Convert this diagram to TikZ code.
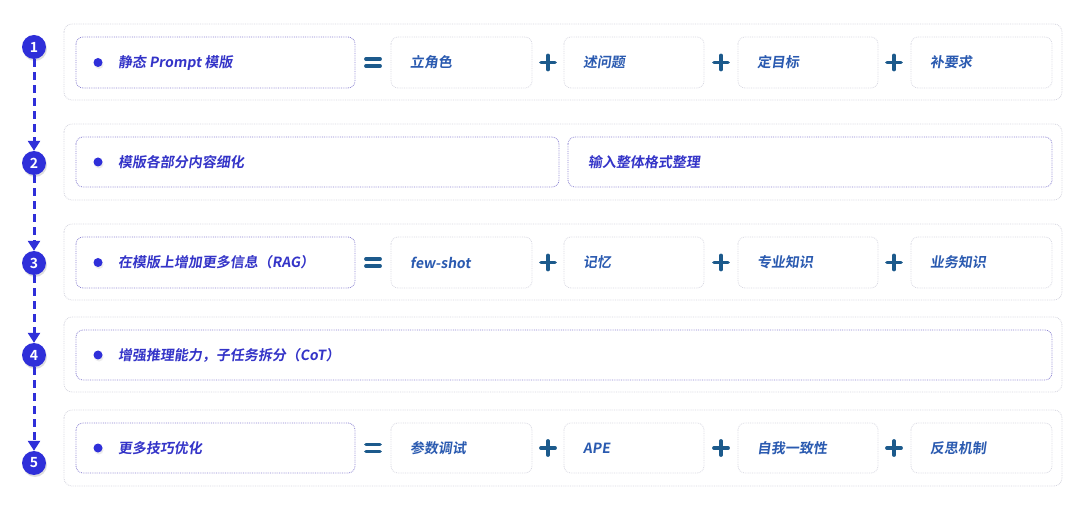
\documentclass[tikz,border=0pt]{standalone}
\usepackage{fontspec}
\newfontfamily\cjk[FakeSlant=0.14,BoldFont={Noto Sans CJK SC Bold}]{Noto Sans CJK SC}
\usetikzlibrary{arrows.meta,shadows}
\definecolor{indigo}{HTML}{3434C8}
\definecolor{stepblue}{HTML}{2F2FD9}
\definecolor{subtext}{HTML}{2A5AB0}
\definecolor{opcol}{HTML}{1C5A8C}
\definecolor{mainborder}{HTML}{8C84D2}
\definecolor{outerborder}{HTML}{D6D6E0}
\definecolor{subborder}{HTML}{D8D8E2}
\tikzset{
  outerbox/.style={draw=outerborder, densely dotted, line width=0.8pt, rounded corners=8pt},
  mainbox/.style={draw=mainborder, densely dotted, line width=0.8pt, rounded corners=7pt, fill=white},
  subbox/.style={draw=subborder, densely dotted, line width=0.8pt, rounded corners=7pt, fill=white},
  maintext/.style={anchor=west, inner sep=0pt, text=indigo, font=\cjk\bfseries\fontsize{14}{16}\selectfont},
  subtxt/.style={anchor=west, inner sep=0pt, text=subtext, font=\cjk\bfseries\fontsize{14}{16}\selectfont},
  bullet/.style={circle, fill=stepblue, inner sep=0pt, minimum size=9pt, drop shadow={opacity=0.15, shadow xshift=1pt, shadow yshift=-2pt}},
  stepnum/.style={circle, fill=stepblue, inner sep=0pt, minimum size=24pt, text=white, font=\fontspec{Noto Sans CJK SC Bold}\fontsize{14}{14}\selectfont, drop shadow={opacity=0.25, shadow xshift=1pt, shadow yshift=-2pt}},
  flow/.style={draw=stepblue, line width=3pt, dash pattern=on 8pt off 5pt, -{Triangle[length=10pt,width=12pt]}},
  opline/.style={draw=opcol, line width=3.8pt, line cap=round}
}
\newcommand{\eqsign}[2]{%
  \draw[opline] (#1-7,#2-3.5) -- (#1+7,#2-3.5);
  \draw[opline] (#1-7,#2+3.5) -- (#1+7,#2+3.5);}
\newcommand{\plussign}[2]{%
  \draw[opline] (#1-7,#2) -- (#1+7,#2);
  \draw[opline] (#1,#2-7) -- (#1,#2+7);}
\begin{document}
\begin{tikzpicture}[x=1pt,y=-1pt]
\useasboundingbox[fill=white] (0,0) rectangle (1080,505);
% outer rows
\draw[outerbox] (64,24) rectangle (1062,100);
\draw[outerbox] (64,124) rectangle (1062,200);
\draw[outerbox] (64,224) rectangle (1062,300);
\draw[outerbox] (64,317) rectangle (1062,392);
\draw[outerbox] (64,410) rectangle (1062,486);

% step circles
\node[stepnum] (s1) at (34,47) {1};
\node[stepnum] (s2) at (34,163) {2};
\node[stepnum] (s3) at (34,263) {3};
\node[stepnum] (s4) at (34,355) {4};
\node[stepnum] (s5) at (34,463) {5};
\draw[flow] (s1.south) -- (s2.north);
\draw[flow] (s2.south) -- (s3.north);
\draw[flow] (s3.south) -- (s4.north);
\draw[flow] (s4.south) -- (s5.north);

% Row 1
\draw[mainbox] (76,37) rectangle (355,88);
\node[bullet] (b1) at (98,62.5) {};
\node[maintext] (t1) at (118,62.5) {静态 Prompt 模版};
\eqsign{373}{62.5}
\draw[subbox] (391,37) rectangle (532,88);
\node[subtxt] (r1a) at (410,62.5) {立角色};
\plussign{548}{62.5}
\draw[subbox] (564,37) rectangle (704,88);
\node[subtxt] (r1b) at (583,62.5) {述问题};
\plussign{721}{62.5}
\draw[subbox] (738,37) rectangle (878,88);
\node[subtxt] (r1c) at (757,62.5) {定目标};
\plussign{894}{62.5}
\draw[subbox] (911,37) rectangle (1052,88);
\node[subtxt] (r1d) at (930,62.5) {补要求};

% Row 2
\draw[mainbox] (76,137) rectangle (559,187);
\node[bullet] (b2) at (98,162) {};
\node[maintext] (t2) at (118,162) {模版各部分内容细化};
\draw[mainbox] (568,137) rectangle (1052,187);
\node[maintext] (t2b) at (588,162) {输入整体格式整理};

% Row 3
\draw[mainbox] (76,237) rectangle (355,288);
\node[bullet] (b3) at (98,262.5) {};
\node[maintext] (t3) at (118,262.5) {在模版上增加更多信息（RAG）};
\eqsign{373}{262.5}
\draw[subbox] (391,237) rectangle (532,288);
\node[subtxt] (r3a) at (410,262.5) {few-shot};
\plussign{548}{262.5}
\draw[subbox] (564,237) rectangle (704,288);
\node[subtxt] (r3b) at (583,262.5) {记忆};
\plussign{721}{262.5}
\draw[subbox] (738,237) rectangle (878,288);
\node[subtxt] (r3c) at (757,262.5) {专业知识};
\plussign{894}{262.5}
\draw[subbox] (911,237) rectangle (1052,288);
\node[subtxt] (r3d) at (930,262.5) {业务知识};

% Row 4
\draw[mainbox] (76,330) rectangle (1052,380);
\node[bullet] (b4) at (98,355) {};
\node[maintext] (t4) at (118,355) {增强推理能力，子任务拆分（CoT）};

% Row 5
\draw[mainbox] (76,423) rectangle (355,473);
\node[bullet] (b5) at (98,448) {};
\node[maintext] (t5) at (118,448) {更多技巧优化};
\eqsign{373}{448}
\draw[subbox] (391,423) rectangle (532,473);
\node[subtxt] (r5a) at (410,448) {参数调试};
\plussign{548}{448}
\draw[subbox] (564,423) rectangle (704,473);
\node[subtxt] (r5b) at (583,448) {APE};
\plussign{721}{448}
\draw[subbox] (738,423) rectangle (878,473);
\node[subtxt] (r5c) at (757,448) {自我一致性};
\plussign{894}{448}
\draw[subbox] (911,423) rectangle (1052,473);
\node[subtxt] (r5d) at (930,448) {反思机制};
\end{tikzpicture}
\end{document}
